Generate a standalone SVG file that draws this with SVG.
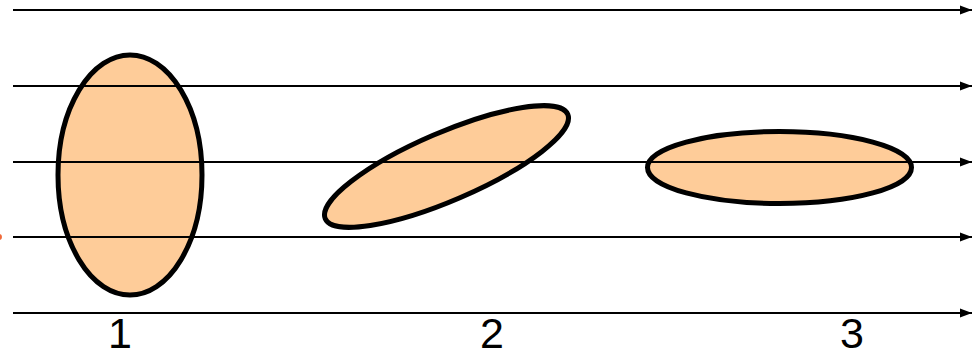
<svg xmlns="http://www.w3.org/2000/svg" width="978" height="356" viewBox="0 0 978 356">
<style>
.shape{fill:#fecc99;stroke:#000;stroke-width:5}
.ray{stroke:#000;stroke-width:2;fill:none;marker-end:url(#ah)}
.lbl{font-family:"Liberation Sans",Arial,sans-serif;font-size:43px;fill:#000;text-anchor:middle}
</style>
<defs>
<marker id="ah" markerUnits="userSpaceOnUse" markerWidth="13" markerHeight="10" refX="12" refY="5" orient="auto">
<path d="M0,0.5 L12,5 L0,9.5 Z" fill="#000"/>
</marker>
</defs>
<rect width="978" height="356" fill="#fff"/>
<circle cx="-1" cy="237" r="3" fill="#f06a3a"/>
<g id="node1"><ellipse class="shape" cx="130" cy="175" rx="72" ry="120"/></g>
<g id="node2"><ellipse class="shape" cx="446.5" cy="166.5" rx="132" ry="34" transform="rotate(-23.3 446.5 166.5)"/></g>
<g id="node3"><ellipse class="shape" cx="779.5" cy="167.5" rx="132" ry="36"/></g>
<g id="connectors">
<line class="ray" x1="13" y1="10" x2="972" y2="10"/>
<line class="ray" x1="13" y1="86" x2="972" y2="86"/>
<line class="ray" x1="13" y1="162" x2="972" y2="162"/>
<line class="ray" x1="13" y1="237" x2="972" y2="237"/>
<line class="ray" x1="13" y1="313" x2="972" y2="313"/>
</g>
<g id="labels">
<text class="lbl" x="120" y="348">1</text>
<text class="lbl" x="492" y="348">2</text>
<text class="lbl" x="852" y="348">3</text>
</g>
</svg>
